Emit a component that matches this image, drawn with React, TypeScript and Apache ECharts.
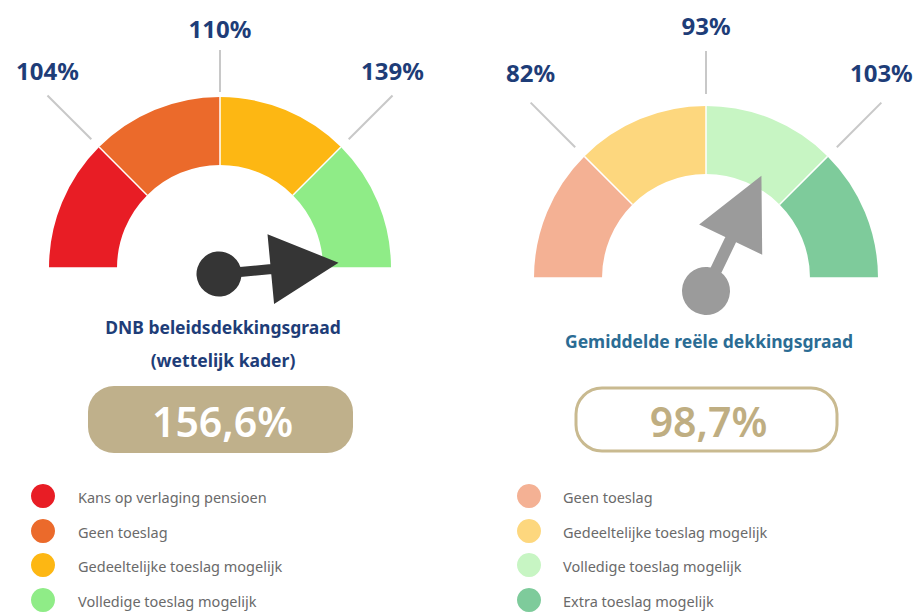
import React, { useEffect, useRef } from "react";
import * as echarts from "echarts";

// ---- data ----
const leftThresholds = [104, 110, 139];
const leftScaleEnds = [98, 159];
const leftValue = 156.6;
const leftTitle = ["DNB beleidsdekkingsgraad", "(wettelijk kader)"];
const leftColors = ["#E81D25", "#EB6A2B", "#FDB713", "#8FEC87"];
const leftLegend = [
  "Kans op verlaging pensioen",
  "Geen toeslag",
  "Gedeeltelijke toeslag mogelijk",
  "Volledige toeslag mogelijk",
];

const rightThresholds = [82, 93, 103];
const rightScaleEnds = [71, 114];
const rightValue = 98.7;
const rightTitle = ["Gemiddelde reële dekkingsgraad"];
const rightColors = ["#F4B194", "#FDD77E", "#C7F5C3", "#7ECB9B"];
const rightLegend = [
  "Geen toeslag",
  "Gedeeltelijke toeslag mogelijk",
  "Volledige toeslag mogelijk",
  "Extra toeslag mogelijk",
];

// ---- layout ----
const FONT = '"Noto Sans", "DejaVu Sans", sans-serif';
const NAVY = "#1E3D78";

type Gauge = {
  thresholds: number[];
  ends: number[];
  value: number;
  colors: string[];
  legend: string[];
  title: string[];
  cx: number;
  cy: number;
  R: number;
  band: number;
  pcx: number;
  pcy: number;
  pointerColor: string;
  circleR: number;
  shaftHalf: number;
  baseDist: number;
  tipDist: number;
  baseHalf: number;
  diag: number[];
  vert: number[];
  labelDiagOff: number;
  labelVertOff: number;
  titleColor: string;
  titleY: number[];
  boxX: number;
  boxY: number;
  boxW: number;
  boxH: number;
  filled: boolean;
  boxColor: string;
  valueColor: string;
  dotX: number;
  textX: number;
};

const gauges: Gauge[] = [
  {
    thresholds: leftThresholds,
    ends: leftScaleEnds,
    value: leftValue,
    colors: leftColors,
    legend: leftLegend,
    title: leftTitle,
    cx: 220,
    cy: 268,
    R: 171,
    band: 68,
    pcx: 219,
    pcy: 274,
    pointerColor: "#353535",
    circleR: 22.5,
    shaftHalf: 5,
    baseDist: 52,
    tipDist: 120,
    baseHalf: 35,
    diag: [182, 244],
    vert: [176, 218],
    labelDiagOff: 25,
    labelVertOff: 22,
    titleColor: NAVY,
    titleY: [327, 360],
    boxX: 88,
    boxY: 386,
    boxW: 265,
    boxH: 67,
    filled: true,
    boxColor: "#BFB08B",
    valueColor: "#FFFFFF",
    dotX: 43,
    textX: 78,
  },
  {
    thresholds: rightThresholds,
    ends: rightScaleEnds,
    value: rightValue,
    colors: rightColors,
    legend: rightLegend,
    title: rightTitle,
    cx: 706,
    cy: 278,
    R: 172,
    band: 68,
    pcx: 706,
    pcy: 291,
    pointerColor: "#9B9B9B",
    circleR: 24,
    shaftHalf: 6,
    baseDist: 57,
    tipDist: 128,
    baseHalf: 35,
    diag: [185, 248],
    vert: [184, 227],
    labelDiagOff: 30,
    labelVertOff: 26,
    titleColor: "#2B6C94",
    titleY: [341],
    boxX: 576,
    boxY: 388,
    boxW: 261,
    boxH: 63,
    filled: false,
    boxColor: "#C9BA90",
    valueColor: "#BFAE82",
    dotX: 529,
    textX: 563,
  },
];

const legendY = [496, 531, 565, 600];

function zonePos(v: number, thresholds: number[], ends: number[]) {
  const stops = [ends[0], ...thresholds, ends[1]];
  for (let i = 0; i < stops.length - 1; i++) {
    if (v <= stops[i + 1] || i === stops.length - 2) {
      const f = (v - stops[i]) / (stops[i + 1] - stops[i]);
      return i + Math.max(0, Math.min(1, f));
    }
  }
  return 0;
}

function pointerPath(g: Gauge) {
  const r = g.circleR;
  const s = g.shaftHalf;
  const b = g.baseDist;
  const t = g.tipDist;
  const h = g.baseHalf;
  return (
    `path://M ${-r} 0 A ${r} ${r} 0 1 1 ${r} 0 A ${r} ${r} 0 1 1 ${-r} 0 Z ` +
    `M ${-s} ${-r + 4} L ${-s} ${-b - 1} L ${s} ${-b - 1} L ${s} ${-r + 4} Z ` +
    `M ${-h} ${-b} L 0 ${-t} L ${h} ${-b} Z`
  );
}

function fmtPct(v: number) {
  return v.toFixed(1).replace(".", ",") + "%";
}

function buildOption() {
  const series: any[] = [];
  const graphic: any[] = [];

  gauges.forEach((g) => {
    const n = g.colors.length;
    series.push({
      type: "gauge",
      center: [g.cx, g.cy],
      radius: g.R,
      startAngle: 180,
      endAngle: 0,
      min: 0,
      max: n,
      splitNumber: n,
      axisLine: {
        show: true,
        lineStyle: {
          width: g.band,
          color: g.colors.map((c, i) => [(i + 1) / n, c]),
        },
      },
      splitLine: {
        show: true,
        distance: -g.band,
        length: g.band,
        lineStyle: { color: "#FFFFFF", width: 1.5 },
      },
      axisTick: { show: false },
      axisLabel: { show: false },
      pointer: { show: false },
      anchor: { show: false },
      progress: { show: false },
      title: { show: false },
      detail: { show: false },
      data: [{ value: 0 }],
    });

    const pos = zonePos(g.value, g.thresholds, g.ends);
    series.push({
      type: "gauge",
      center: [g.pcx, g.pcy],
      radius: g.R,
      startAngle: 180,
      endAngle: 0,
      min: 0,
      max: n,
      axisLine: { show: false },
      splitLine: { show: false },
      axisTick: { show: false },
      axisLabel: { show: false },
      anchor: { show: false },
      progress: { show: false },
      title: { show: false },
      detail: { show: false },
      pointer: {
        show: true,
        showAbove: true,
        icon: pointerPath(g),
        width: g.baseHalf * 2,
        length: g.tipDist + g.circleR,
        offsetCenter: [0, g.circleR],
        itemStyle: { color: g.pointerColor },
      },
      data: [{ value: pos }],
    });

    // leader lines + threshold labels
    g.thresholds.forEach((th, i) => {
      const ang = Math.PI - ((i + 1) * Math.PI) / n;
      const vertical = Math.abs(Math.cos(ang)) < 1e-6;
      const [r1, r2] = vertical ? g.vert : g.diag;
      const ux = Math.cos(ang);
      const uy = -Math.sin(ang);
      const x2 = g.cx + ux * r2;
      const y2 = g.cy + uy * r2;
      graphic.push({
        type: "line",
        shape: { x1: g.cx + ux * r1, y1: g.cy + uy * r1, x2, y2 },
        style: { stroke: "#C8C8C8", lineWidth: 2 },
        silent: true,
      });
      graphic.push({
        type: "text",
        x: x2,
        y: y2 - (vertical ? g.labelVertOff : g.labelDiagOff),
        style: {
          text: th + "%",
          fill: NAVY,
          font: `bold 24px ${FONT}`,
          align: "center",
          verticalAlign: "middle",
          textAlign: "center",
          textVerticalAlign: "middle",
        },
        silent: true,
      });
    });

    // titles
    g.title.forEach((t, i) => {
      graphic.push({
        type: "text",
        x: g.cx + 3,
        y: g.titleY[i],
        style: {
          text: t,
          fill: g.titleColor,
          font: `bold 17.5px ${FONT}`,
          align: "center",
          verticalAlign: "middle",
          textAlign: "center",
          textVerticalAlign: "middle",
        },
        silent: true,
      });
    });

    // value box
    graphic.push({
      type: "rect",
      shape: { x: g.boxX, y: g.boxY, width: g.boxW, height: g.boxH, r: 26 },
      style: g.filled
        ? { fill: g.boxColor }
        : { fill: "#FFFFFF", stroke: g.boxColor, lineWidth: 3 },
      silent: true,
    });
    graphic.push({
      type: "text",
      x: g.boxX + g.boxW / 2 + 2,
      y: g.boxY + g.boxH / 2 + 1,
      style: {
        text: fmtPct(g.value),
        fill: g.valueColor,
        font: `600 41px ${FONT}`,
        align: "center",
        verticalAlign: "middle",
        textAlign: "center",
        textVerticalAlign: "middle",
      },
      silent: true,
    });

    // legend
    g.legend.forEach((name, i) => {
      graphic.push({
        type: "circle",
        shape: { cx: g.dotX, cy: legendY[i], r: 12 },
        style: { fill: g.colors[i] },
        silent: true,
      });
      graphic.push({
        type: "text",
        x: g.textX,
        y: legendY[i] + 1,
        style: {
          text: name,
          fill: "#6A6A6A",
          font: `14.5px ${FONT}`,
          align: "left",
          verticalAlign: "middle",
          textAlign: "left",
          textVerticalAlign: "middle",
        },
        silent: true,
      });
    });
  });

  return {
    animation: false,
    backgroundColor: "#FFFFFF",
    series,
    graphic: { elements: graphic },
  };
}

export default function App() {
  const ref = useRef<HTMLDivElement>(null);
  useEffect(() => {
    document.body.style.margin = "0";
    if (!ref.current) return;
    const chart = echarts.init(ref.current, undefined, { renderer: "svg" });
    chart.setOption(buildOption() as any);
    return () => chart.dispose();
  }, []);
  return <div ref={ref} style={{ width: 917, height: 613 }} />;
}
